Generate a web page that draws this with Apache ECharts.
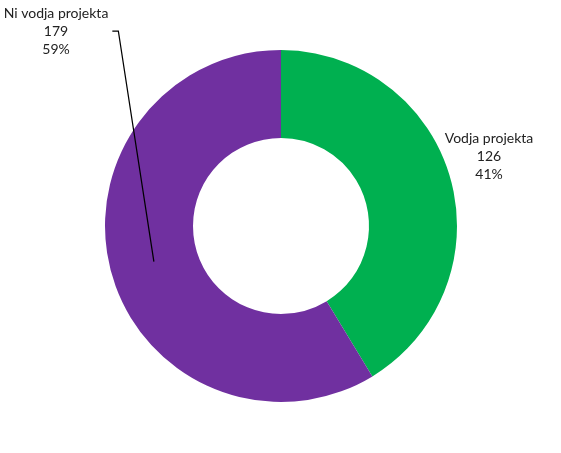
<!DOCTYPE html>
<html><head><meta charset="utf-8">
<script src="https://cdn.jsdelivr.net/npm/echarts@6/dist/echarts.min.js"></script>
<style>html,body{margin:0;padding:0;background:#fff}#c{width:561px;height:453px}</style>
</head><body><div id="c"></div>
<script>
var categories = ['Vodja projekta', 'Ni vodja projekta'];
var values = [126, 179];
var colors = ['#00B050', '#7030A0'];

var CX = 281, CY = 226, R_IN = 88, R_OUT = 176;
var total = values.reduce(function(a,b){return a+b;},0);
var leader = null;

var chart = echarts.init(document.getElementById('c'), null, {renderer:'canvas'});
var data = categories.map(function(n,i){
  return {name:n, value:values[i], itemStyle:{color:colors[i]}};
});
chart.setOption({
  animation:false,
  series:[{
    type:'pie',
    center:[CX, CY],
    radius:[R_IN, R_OUT],
    startAngle:90,
    clockwise:true,
    data:data,
    label:{
      show:true,
      position:'outside',
      overflow:'none',
      fontFamily:'Lato',
      fontSize:14,
      lineHeight:18,
      color:'#222',
      align:'center',
      formatter:function(p){ return p.name + '\n' + p.value + '\n' + Math.round(p.value/total*100) + '%'; }
    },
    labelLine:{show:false},
    labelLayout:function(p){
      if (p.dataIndex === 0) {
        return {x:489, y:156, align:'center', verticalAlign:'middle'};
      }
      var before = 0;
      for (var i=0;i<p.dataIndex;i++) before += values[i];
      var a = (90 - 360*(before + values[p.dataIndex]/2)/total) * Math.PI/180;
      var rm = (R_IN + R_OUT)/2;
      var mx = CX + rm*Math.cos(a), my = CY - rm*Math.sin(a);
      var lx = 56, ly = 31;
      var right = lx + p.labelRect.width/2;
      leader = [[mx,my],[right+10, ly],[right+4, ly]];
      return {x:lx, y:ly, align:'center', verticalAlign:'middle'};
    }
  }]
});
if (leader) {
  chart.setOption({graphic:[{type:'polyline', z:100, silent:true,
    shape:{points:leader}, style:{stroke:'#000', lineWidth:1.25, fill:null}}]});
}
</script></body></html>
